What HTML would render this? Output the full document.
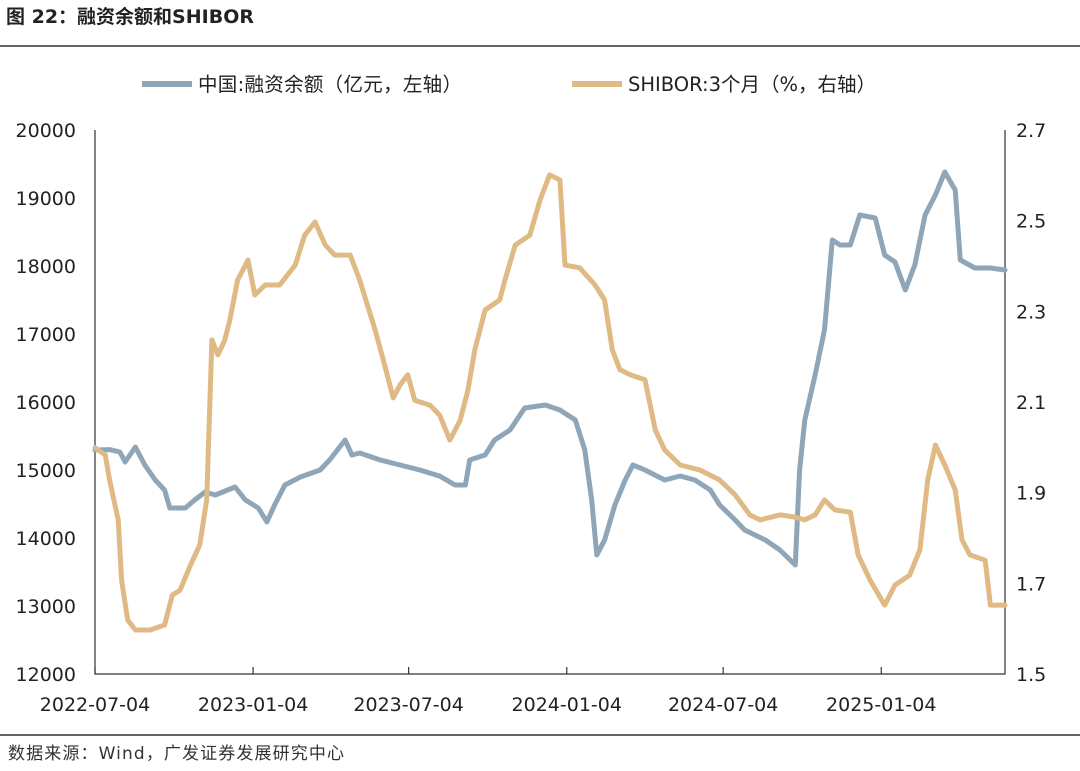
<!DOCTYPE html>
<html><head><meta charset="utf-8"><style>
body{margin:0;background:#fff;width:1080px;height:767px;overflow:hidden;font-family:"DejaVu Sans","Noto Sans CJK SC",sans-serif;}
</style></head><body>
<svg id="c" width="1080" height="767" xmlns="http://www.w3.org/2000/svg">
<text x="6" y="23" font-size="19" font-weight="bold" fill="#222" font-family="DejaVu Sans, Noto Sans CJK SC, sans-serif">图 22：融资余额和SHIBOR</text>
<line x1="0" y1="46" x2="1080" y2="46" stroke="#333" stroke-width="1.5"/>
<g>
<g><line x1="142" y1="84" x2="192" y2="84" stroke="#8fa6b8" stroke-width="6"/><text x="198" y="91" font-size="19.5" fill="#222" font-family="DejaVu Sans, Noto Sans CJK SC, sans-serif" textLength="264">中国:融资余额（亿元，左轴）</text></g>
<g><line x1="572" y1="84" x2="622" y2="84" stroke="#dfba85" stroke-width="6"/><text x="628" y="91" font-size="19.5" fill="#222" font-family="DejaVu Sans, Noto Sans CJK SC, sans-serif" textLength="248">SHIBOR:3个月（%，右轴）</text></g>
</g>
<g id="axes"></g>
<g id="series"></g>
<line x1="0" y1="735" x2="1080" y2="735" stroke="#333" stroke-width="1.5"/>
<text x="8" y="759" font-size="17" fill="#333" font-family="DejaVu Sans, Noto Sans CJK SC, sans-serif" textLength="336">数据来源：Wind，广发证券发展研究中心</text>
</svg>
<script>
const leftTicks=[12000,13000,14000,15000,16000,17000,18000,19000,20000];
const rightTicks=[1.5,1.7,1.9,2.1,2.3,2.5,2.7];
const xTickLabels=["2022-07-04","2023-01-04","2023-07-04","2024-01-04","2024-07-04","2025-01-04"];
const xTickDays=[0,184,365,549,731,915];
const marginDays=[0,17,29,35,47,58,70,81,87,105,116,128,140,163,175,190,200,209,221,239,262,273,291,299,308,332,355,378,401,419,431,436,454,465,483,500,524,541,559,570,578,584,593,605,617,626,640,663,681,698,716,727,745,756,780,797,815,820,826,838,849,858,867,879,890,908,919,931,943,954,966,978,989,1001,1007,1024,1042,1059];
const marginVals=[15294,15300,15265,15118,15338,15074,14853,14706,14441,14441,14559,14676,14632,14750,14559,14441,14235,14485,14779,14897,15000,15147,15441,15221,15250,15147,15074,15000,14912,14779,14779,15147,15221,15441,15588,15912,15956,15882,15735,15294,14559,13750,13971,14485,14853,15074,15000,14853,14912,14853,14706,14485,14265,14118,13971,13824,13603,15000,15735,16397,17059,18382,18309,18309,18750,18706,18162,18059,17647,18015,18750,19044,19382,19118,18088,17971,17971,17941];
const shiborDays=[0,12,17,27,31,38,47,64,81,90,99,111,122,130,136,143,151,157,166,178,186,198,215,233,244,256,268,279,297,308,326,337,347,355,364,372,390,401,413,425,434,442,454,471,477,489,506,518,529,541,547,564,582,593,602,611,623,640,652,663,681,704,727,745,762,774,797,815,826,838,849,861,879,888,902,919,931,948,960,969,978,989,1001,1009,1018,1036,1042,1059];
const shiborVals=[1.999,1.983,1.928,1.840,1.707,1.619,1.597,1.597,1.608,1.674,1.685,1.740,1.785,1.884,2.237,2.204,2.237,2.281,2.369,2.413,2.336,2.358,2.358,2.402,2.468,2.497,2.446,2.424,2.424,2.369,2.259,2.182,2.109,2.138,2.160,2.104,2.093,2.071,2.016,2.060,2.126,2.215,2.303,2.325,2.369,2.446,2.468,2.546,2.601,2.590,2.402,2.396,2.358,2.325,2.215,2.171,2.160,2.149,2.038,1.994,1.961,1.950,1.928,1.895,1.851,1.840,1.851,1.846,1.840,1.851,1.884,1.862,1.857,1.763,1.707,1.652,1.696,1.718,1.774,1.928,2.005,1.961,1.906,1.796,1.763,1.751,1.652,1.652];
const X0=95,X1=1005,Y0=674,Y1=130,maxDay=1059;
const NS="http://www.w3.org/2000/svg";
const x=d=>X0+d/maxDay*(X1-X0);
const yl=v=>Y0-(v-12000)/8000*(Y0-Y1);
const yr=v=>Y0-(v-1.5)/1.2*(Y0-Y1);
const ax=document.getElementById('axes'),se=document.getElementById('series');
function mk(tag,attrs,parent){const e=document.createElementNS(NS,tag);for(const k in attrs)e.setAttribute(k,attrs[k]);parent.appendChild(e);return e;}
const F="DejaVu Sans, sans-serif";
let e=mk('path',{d:`M${X0},${Y1} V${Y0} H${X1} V${Y1}`,fill:'none',stroke:'#333','stroke-width':1.2},ax);


leftTicks.forEach(v=>{const t=mk('text',{x:X0-19,y:yl(v)+7,'font-size':19,'text-anchor':'end',fill:'#222','font-family':F},ax);t.textContent=v;

});
rightTicks.forEach(v=>{const t=mk('text',{x:X1+11,y:yr(v)+7,'font-size':19,fill:'#222','font-family':F},ax);t.textContent=v.toFixed(1);

});
xTickDays.forEach((d,i)=>{mk('line',{x1:x(d),x2:x(d),y1:Y0,y2:Y0-7,stroke:'#333','stroke-width':1.2},ax);
const t=mk('text',{x:x(d),y:711,'font-size':19,'text-anchor':'middle',fill:'#222','font-family':F},ax);t.textContent=xTickLabels[i];

});
function line(days,vals,ys,col,name){const d=days.map((dd,i)=>(i?'L':'M')+x(dd).toFixed(1)+','+ys(vals[i]).toFixed(1)).join(' ');
const p=mk('path',{d:d,fill:'none',stroke:col,'stroke-width':5,'stroke-linejoin':'round','stroke-linecap':'round'},se);

}
line(marginDays,marginVals,yl,'#8fa6b8','margin-balance-line');
line(shiborDays,shiborVals,yr,'#dfba85','shibor-3m-line');
</script>
</body></html>
